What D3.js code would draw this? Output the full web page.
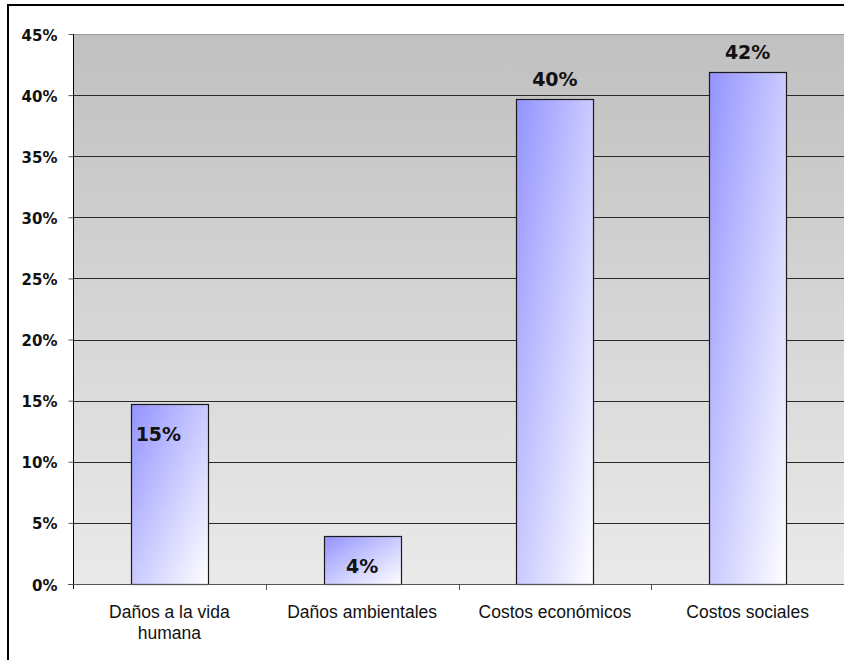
<!DOCTYPE html>
<html>
<head>
<meta charset="utf-8">
<script src="https://cdn.jsdelivr.net/npm/d3@7"></script>
<style>
  html, body { margin: 0; padding: 0; background: #ffffff; }
  svg { display: block; }
</style>
</head>
<body>
<svg id="chart" width="844" height="660"></svg>
<script>
// Share of each cost type
const categories = ["Daños a la vida humana", "Daños ambientales", "Costos económicos", "Costos sociales"];
const shares = [0.147, 0.039, 0.397, 0.419];
const yTickValues = [0, 0.05, 0.10, 0.15, 0.20, 0.25, 0.30, 0.35, 0.40, 0.45];

// Where each value label sits relative to its bar
const labelPlacement = ["inside", "inside", "outside", "outside"];
const labelShiftX = [-11, 0, 0, 0];

const W = 844, H = 660;
const plot = { left: 73, right: 844, top: 34, bottom: 584 };

const svg = d3.select("#chart");
const defs = svg.append("defs");

// Plot background: darker grey at the top fading lighter downwards
const bg = defs.append("linearGradient")
  .attr("id", "plotBg").attr("x1", 0).attr("y1", 0).attr("x2", 0).attr("y2", 1);
bg.append("stop").attr("offset", "0%").attr("stop-color", "#c0c0c0");
bg.append("stop").attr("offset", "100%").attr("stop-color", "#eaeaea");

// Bar fill: blue in the top-left corner fading to white at bottom-right
const barGrad = defs.append("linearGradient")
  .attr("id", "barFill").attr("x1", 0).attr("y1", 0).attr("x2", 1).attr("y2", 1);
barGrad.append("stop").attr("offset", "0%").attr("stop-color", "#9393ff");
barGrad.append("stop").attr("offset", "50%").attr("stop-color", "#cacaff");
barGrad.append("stop").attr("offset", "100%").attr("stop-color", "#ffffff");

// Outer chart frame
svg.append("rect")
  .attr("x", 8).attr("y", 5)
  .attr("width", W + 20).attr("height", H + 20)
  .attr("fill", "#ffffff").attr("stroke", "#000000").attr("stroke-width", 2);

const x = d3.scaleBand()
  .domain(categories)
  .range([plot.left, plot.right])
  .paddingInner(0.6)
  .paddingOuter(0.3);

const y = d3.scaleLinear()
  .domain([0, 0.45])
  .range([plot.bottom, plot.top]);

// Plot area
svg.append("rect")
  .attr("x", plot.left).attr("y", plot.top)
  .attr("width", plot.right - plot.left).attr("height", plot.bottom - plot.top)
  .attr("fill", "url(#plotBg)");

// Horizontal gridlines
svg.append("g")
  .selectAll("line")
  .data(yTickValues.filter(v => v > 0))
  .join("line")
  .attr("x1", plot.left).attr("x2", plot.right)
  .attr("y1", d => Math.round(y(d)) + 0.5).attr("y2", d => Math.round(y(d)) + 0.5)
  .attr("stroke", (d, i, n) => i === n.length - 1 ? "#9a9a9a" : "#2a2a2a")
  .attr("stroke-width", 1);

// Bars
svg.append("g")
  .selectAll("rect")
  .data(shares)
  .join("rect")
  .attr("x", (d, i) => Math.round(x(categories[i])) + 0.5)
  .attr("y", d => Math.round(y(d)) + 0.5)
  .attr("width", Math.round(x.bandwidth()))
  .attr("height", d => Math.round(y(0)) - Math.round(y(d)))
  .attr("fill", "url(#barFill)")
  .attr("stroke", "#1a1a1a")
  .attr("stroke-width", 1.2);

// Value labels
const pct = d3.format(".0%");
svg.append("g")
  .selectAll("text")
  .data(shares)
  .join("text")
  .attr("x", (d, i) => x(categories[i]) + x.bandwidth() / 2 + labelShiftX[i])
  .attr("y", (d, i) => labelPlacement[i] === "inside" ? y(d) + 37 : y(d) - 13)
  .attr("text-anchor", "middle")
  .attr("font-family", "DejaVu Sans, sans-serif")
  .attr("font-weight", "bold")
  .attr("font-size", 19)
  .attr("fill", "#111111")
  .text(d => pct(d));

// Y axis
const yAxis = svg.append("g")
  .attr("transform", `translate(${plot.left + 0.5},0)`)
  .call(d3.axisLeft(y).tickValues(yTickValues).tickFormat(pct).tickSize(5).tickPadding(11));
yAxis.select(".domain")
  .attr("d", `M0,${plot.top}V${plot.bottom + 5}`)
  .attr("stroke", "#000000");
yAxis.selectAll(".tick line").attr("stroke", "#555555");
yAxis.selectAll(".tick text")
  .attr("font-family", "DejaVu Sans, sans-serif")
  .attr("font-weight", "bold")
  .attr("font-size", 15)
  .attr("fill", "#111111")
  .attr("dy", "0.4em");

// X axis baseline and boundary ticks
const xAxis = svg.append("g");
xAxis.append("line")
  .attr("x1", plot.left - 5).attr("x2", plot.right)
  .attr("y1", plot.bottom + 0.5).attr("y2", plot.bottom + 0.5)
  .attr("stroke", "#555555");
const boundaries = categories.map(c => x(c) - x.step() * x.paddingOuter()).slice(1);
xAxis.selectAll("line.bound")
  .data(boundaries)
  .join("line")
  .attr("class", "bound")
  .attr("x1", d => Math.round(d) + 0.5).attr("x2", d => Math.round(d) + 0.5)
  .attr("y1", plot.bottom).attr("y2", plot.bottom + 6)
  .attr("stroke", "#555555");

// Category labels, wrapped to the band width
const catFont = 17.5;
const maxWidth = x.step() * 0.9;
const measure = svg.append("text")
  .attr("font-family", "Liberation Sans, Arial, sans-serif")
  .attr("font-size", catFont)
  .attr("visibility", "hidden");
function wrap(label) {
  const words = label.split(" ");
  const lines = [];
  let line = [];
  words.forEach(w => {
    const trial = line.concat(w).join(" ");
    measure.text(trial);
    if (measure.node().getComputedTextLength() > maxWidth && line.length) {
      lines.push(line.join(" "));
      line = [w];
    } else {
      line.push(w);
    }
  });
  if (line.length) lines.push(line.join(" "));
  return lines;
}
svg.append("g")
  .selectAll("text")
  .data(categories)
  .join("text")
  .attr("x", d => x(d) + x.bandwidth() / 2)
  .attr("y", 618)
  .attr("text-anchor", "middle")
  .attr("font-family", "Liberation Sans, Arial, sans-serif")
  .attr("font-size", catFont)
  .attr("fill", "#111111")
  .each(function(d) {
    const t = d3.select(this);
    wrap(d).forEach((ln, i) => {
      t.append("tspan")
        .attr("x", x(d) + x.bandwidth() / 2)
        .attr("dy", i === 0 ? 0 : 21)
        .text(ln);
    });
  });
measure.remove();
</script>
</body>
</html>
